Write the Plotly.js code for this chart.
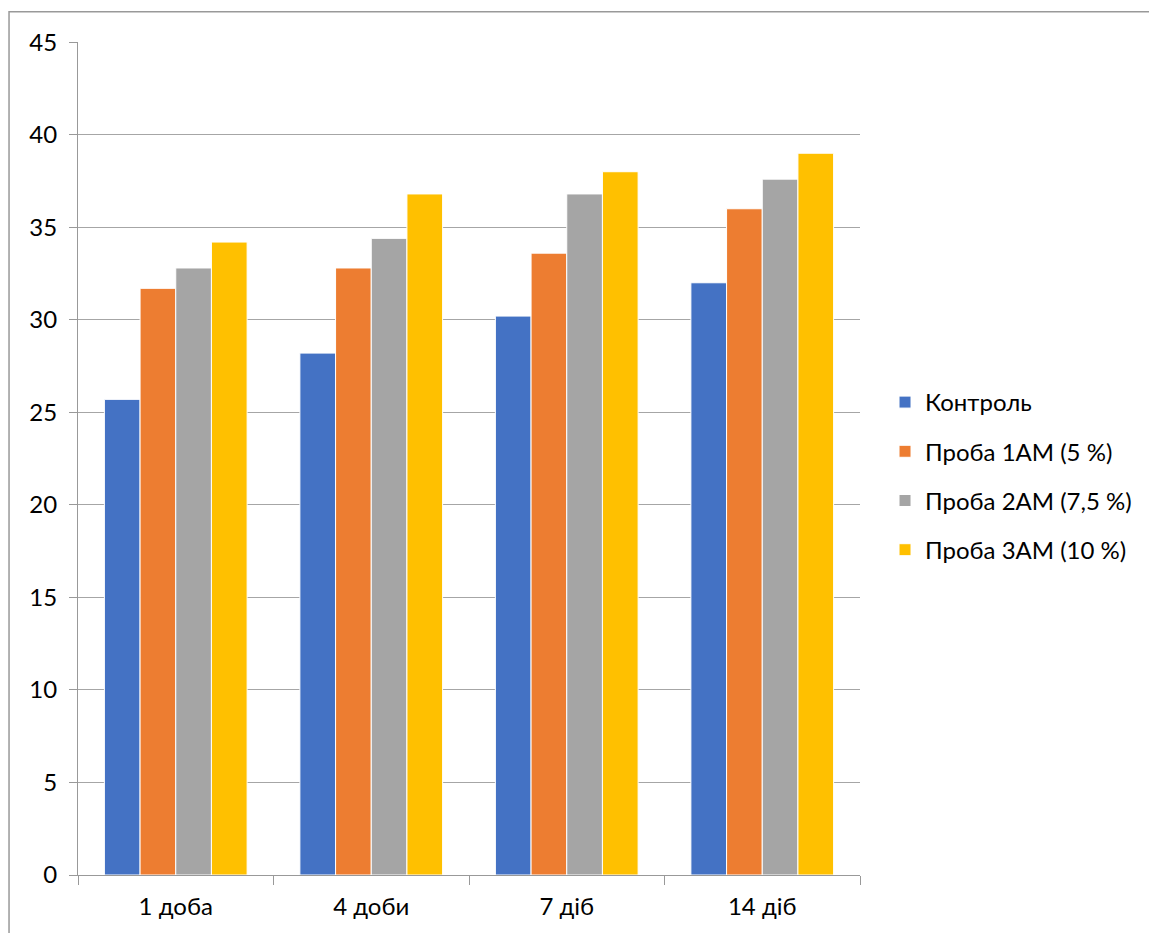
<!DOCTYPE html>
<html>
<head>
<meta charset="utf-8">
<script src="https://cdn.plot.ly/plotly-3.0.1.min.js"></script>
<style>html,body{margin:0;padding:0;background:#fff;}#chart{width:1149px;height:933px;}</style>
</head>
<body>
<div id="chart"></div>
<script>
const categories = ["1 доба", "4 доби", "7 діб", "14 діб"];
const seriesNames = ["Контроль", "Проба 1АМ (5 %)", "Проба 2АМ (7,5 %)", "Проба 3АМ (10 %)"];
const kontrol = [25.7, 28.2, 30.2, 32.0];
const proba1 = [31.7, 32.8, 33.6, 36.0];
const proba2 = [32.8, 34.4, 36.8, 37.6];
const proba3 = [34.2, 36.8, 38.0, 39.0];
const colors = ["#4472C4", "#ED7D31", "#A5A5A5", "#FFC000"];

const values = [kontrol, proba1, proba2, proba3];
const traces = values.map((v, i) => ({
  type: "bar",
  name: seriesNames[i],
  x: categories,
  y: v,
  legendgroup: "g" + i,
  marker: {color: colors[i], line: {color: "#ffffff", width: 1}},
  hoverinfo: "x+y+name"
}));

const layout = {
  width: 1149,
  height: 933,
  margin: {l: 78, r: 289, t: 42, b: 58},
  paper_bgcolor: "#ffffff",
  plot_bgcolor: "#ffffff",
  font: {family: "Lato, 'Noto Sans', sans-serif", size: 24, color: "#000000"},
  barmode: "group",
  bargap: 0.27,
  bargroupgap: 0,
  showlegend: true,
  legend: {
    x: 1.032, y: 0.479, xanchor: "left", yanchor: "middle",
    font: {size: 24, color: "#000000"},
    tracegroupgap: 15,
    traceorder: "grouped"
  },
  xaxis: {
    type: "category",
    showline: true, linecolor: "#999999", linewidth: 1,
    ticks: "outside", tickson: "boundaries", ticklen: 9, tickcolor: "#999999",
    tickfont: {size: 24},
    ticklabelstandoff: 10,
    showgrid: false,
    zeroline: false
  },
  yaxis: {
    range: [0, 45.01], dtick: 5, tick0: 0,
    showline: true, linecolor: "#999999", linewidth: 1,
    ticks: "outside", ticklen: 8, tickcolor: "#999999",
    showgrid: true, gridcolor: "#a6a6a6", gridwidth: 1,
    zeroline: false,
    tickfont: {size: 24},
    ticklabelstandoff: 7
  },
  shapes: [
    {type: "rect", xref: "paper", yref: "paper",
     x0: -0.0882, x1: 1.384, y0: -0.09, y1: 1.0362,
     line: {color: "#999999", width: 1.5}, fillcolor: "rgba(0,0,0,0)", layer: "below"}
  ]
};

Plotly.newPlot("chart", traces, layout, {displayModeBar: false, staticPlot: true});
</script>
</body>
</html>
